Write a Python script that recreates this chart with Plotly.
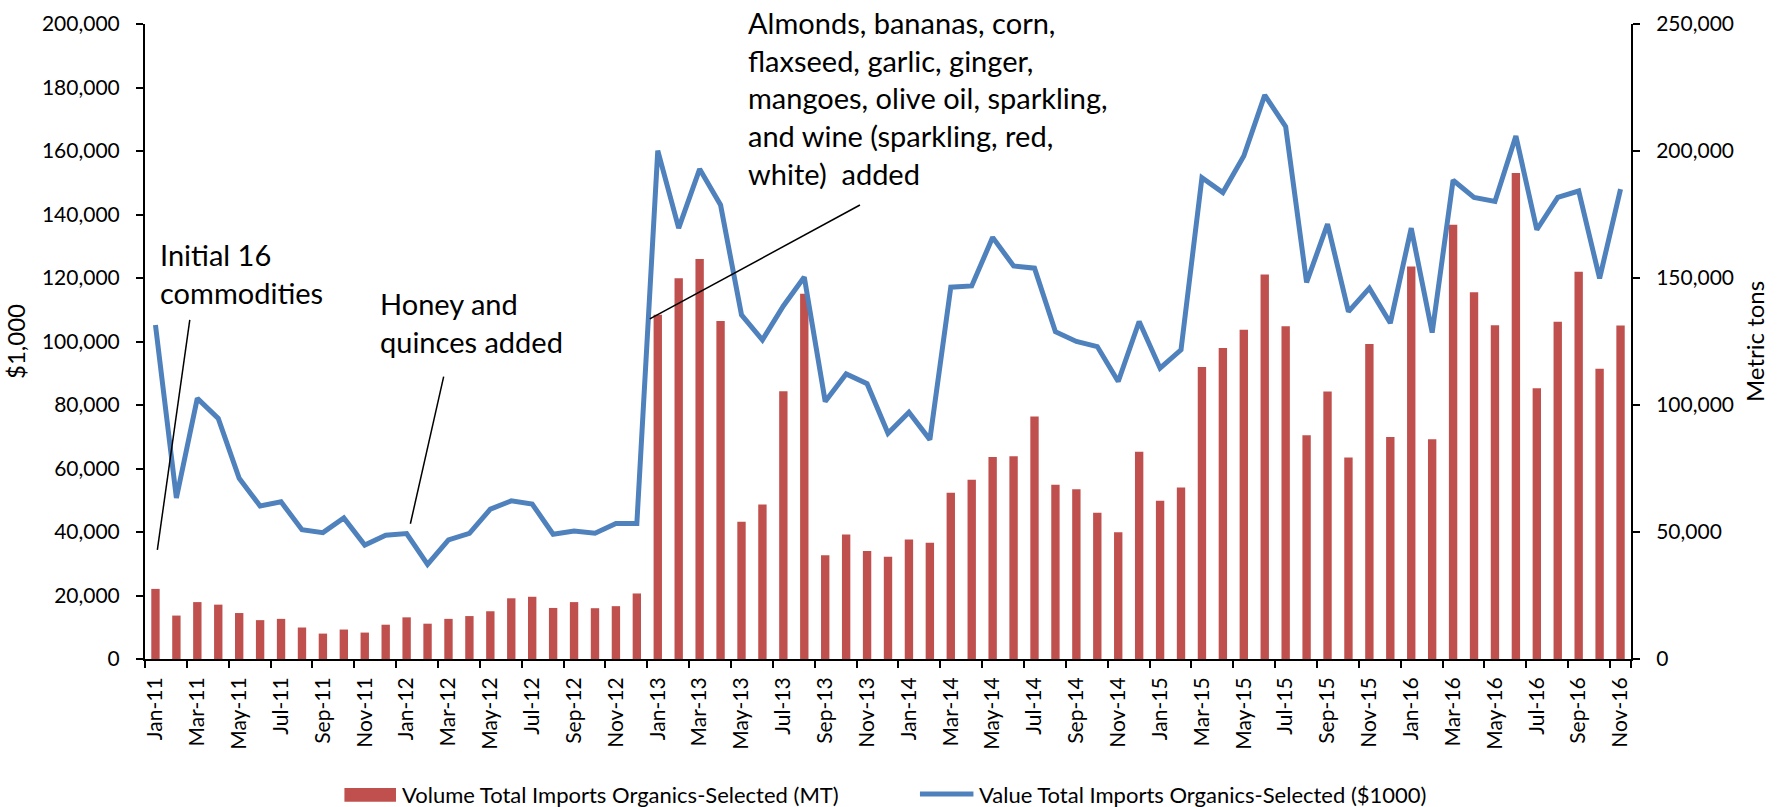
import plotly.graph_objects as go

MONTHS = ["Jan", "Feb", "Mar", "Apr", "May", "Jun", "Jul", "Aug", "Sep", "Oct", "Nov", "Dec"]
YEARS = ["11", "12", "13", "14", "15", "16"]
categories = [f"{m}-{y}" for y in YEARS for m in MONTHS][:71]
tick_labels = categories[::2]

# Volume (metric tons) - right axis
volume_mt = [
    27600, 17100, 22400, 21400, 18100, 15300, 15800, 12400, 10000, 11600, 10400, 13500,
    16400, 13900, 15800, 16900, 18800, 23900, 24500, 20100, 22400, 20000, 20800, 25800,
    135500, 149900, 157500, 133100, 54000, 60800, 105400, 143800, 40800, 49000, 42500, 40300,
    47000, 45800, 65500, 70600, 79500, 79800, 95500, 68600, 66800, 57600, 49900, 81600,
    62300, 67500, 115000, 122400, 129600, 151400, 131000, 88100, 105300, 79300, 124000, 87400,
    154500, 86500, 171000, 144400, 131400, 191300, 106600, 132800, 152500, 114300, 131300,
]

# Value ($1,000) - left axis
value_k = [
    105200, 50700, 82100, 75800, 56900, 48200, 49500, 40700, 39800, 44400, 35900, 39000,
    39500, 29800, 37500, 39600, 47200, 49800, 48800, 39300, 40300, 39600, 42700, 42700,
    160100, 135700, 154300, 143000, 108400, 100500, 111200, 120300, 81100, 89800, 86700, 71100,
    77700, 69100, 117100, 117500, 132800, 123800, 123100, 103100, 100000, 98400, 87400, 106300,
    91600, 97400, 151600, 146900, 158400, 177600, 167700, 118600, 137000, 109400, 116800, 105800,
    135700, 102800, 150800, 145400, 144100, 164700, 135200, 145400, 147400, 119900, 148000,
]

BAR_NAME = "Volume Total Imports Organics-Selected (MT)"
LINE_NAME = "Value Total Imports Organics-Selected ($1000)"

FONT = "Lato"
RED = "#C0504D"
BLUE = "#4F81BD"

fig = go.Figure()
fig.add_bar(
    x=categories, y=volume_mt, name=BAR_NAME,
    marker=dict(color=RED, line=dict(width=0)),
    yaxis="y", showlegend=False,
)
fig.add_scatter(
    x=categories, y=value_k, name=LINE_NAME,
    mode="lines", line=dict(color=BLUE, width=5),
    yaxis="y2", showlegend=False,
)

axis_common = dict(
    showgrid=False, zeroline=False, showline=True, linecolor="black", linewidth=2,
    ticks="outside", ticklen=7, tickwidth=2, tickcolor="black", automargin=False,
    tickfont=dict(family=FONT, size=21, color="black"),
)

fig.update_layout(
    width=1784, height=807,
    margin=dict(l=145, r=153, t=24, b=148, autoexpand=False),
    plot_bgcolor="white", paper_bgcolor="white",
    font=dict(family=FONT, color="black", size=21),
    bargap=0.6,
    showlegend=False,
    xaxis=dict(
        axis_common, type="category", tickmode="array",
        tickvals=tick_labels, ticktext=tick_labels, tickson="boundaries",
        tickangle=-90, range=[-0.5, 70.5], ticklabelstandoff=8,
    ),
    yaxis=dict(
        axis_common, side="right", range=[0, 250000], tickmode="linear",
        tick0=0, dtick=50000, tickformat=",", ticklabelstandoff=12,
        title=dict(text="Metric tons", font=dict(family=FONT, size=24), standoff=14),
    ),
    yaxis2=dict(
        axis_common, side="left", overlaying="y", range=[0, 200000],
        tickmode="linear", tick0=0, dtick=20000, tickformat=",", ticklabelstandoff=12,
        title=dict(text="$1,000", font=dict(family=FONT, size=24), standoff=10),
    ),
)

# Pointer lines for annotations
pointers = [
    (0.09, 34400, 1.64, 106800),
    (12.18, 42600, 13.77, 88960),
    (23.62, 107100, 33.66, 143000),
]
for x0, y0, x1, y1 in pointers:
    fig.add_shape(type="line", xref="x", yref="y2", x0=x0, y0=y0, x1=x1, y1=y1,
                  line=dict(color="black", width=1.5))

notes = [
    (0.14, 121400, "Initial 16<br>commodities"),
    (10.64, 106000, "Honey and<br>quinces added"),
    (28.2, 176700, "Almonds, bananas, corn,<br>flaxseed, garlic, ginger,<br>mangoes, olive oil, sparkling,<br>and wine (sparkling, red,<br>white)  added"),
]
for x, y, t in notes:
    fig.add_annotation(x=x, y=y, xref="x", yref="y2", text=t, showarrow=False,
                       xanchor="left", yanchor="middle", align="left",
                       font=dict(family=FONT, size=29, color="black"))

# Legend (drawn to match the original's wide swatches)
fig.add_shape(type="rect", xref="paper", yref="paper",
              x0=0.1342, x1=0.1689, y0=-0.2247, y1=-0.2031,
              fillcolor=RED, line=dict(width=0))
fig.add_shape(type="line", xref="paper", yref="paper",
              x0=0.5215, x1=0.5575, y0=-0.2126, y1=-0.2126,
              line=dict(color=BLUE, width=5))
fig.add_annotation(x=0.1715, y=-0.2126, xref="paper", yref="paper", text=BAR_NAME,
                   showarrow=False, xanchor="left", yanchor="middle",
                   font=dict(family=FONT, size=22, color="black"))
fig.add_annotation(x=0.5597, y=-0.2126, xref="paper", yref="paper", text=LINE_NAME,
                   showarrow=False, xanchor="left", yanchor="middle",
                   font=dict(family=FONT, size=22, color="black"))

fig.write_html(
    "out.html",
    config={"displayModeBar": False},
    post_script="document.body.style.margin='0';document.body.style.overflow='hidden';",
)
